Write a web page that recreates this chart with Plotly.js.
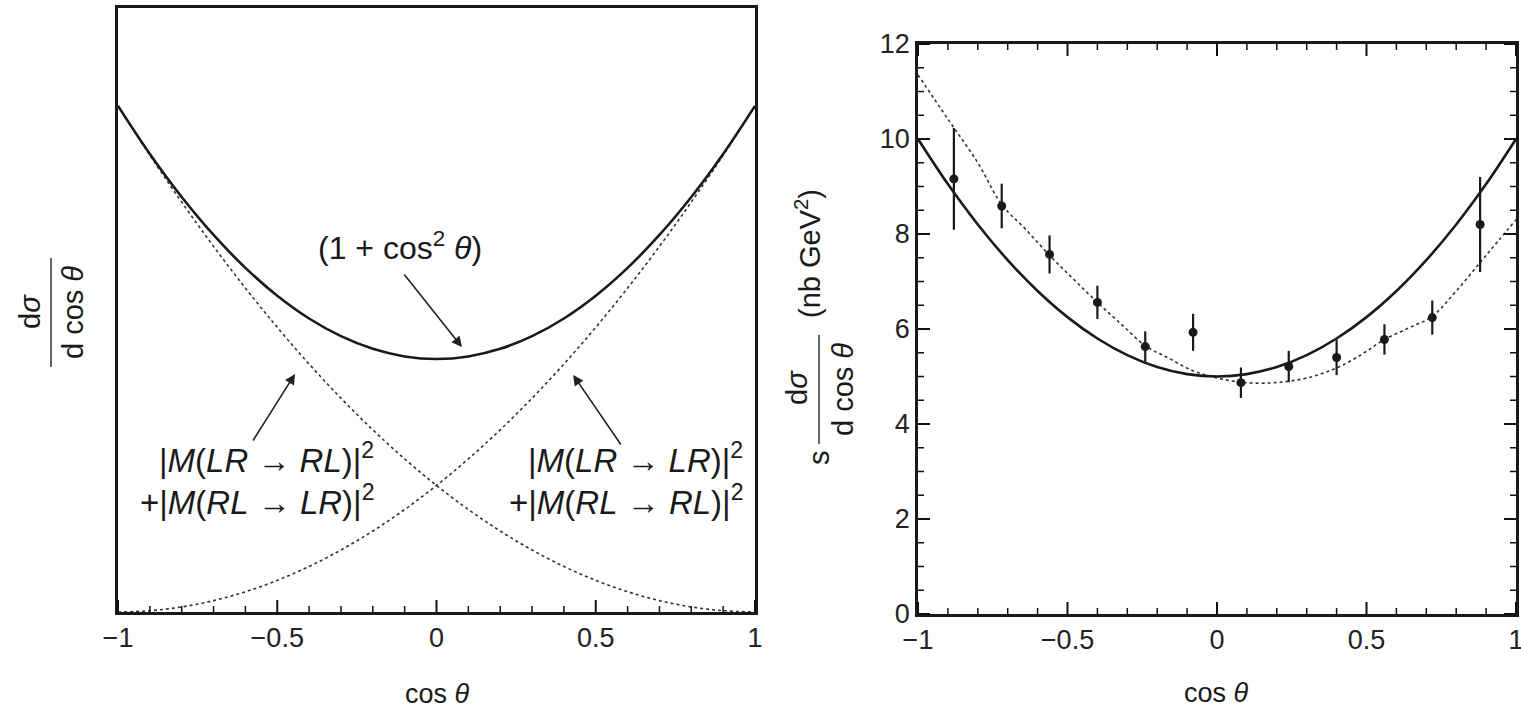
<!DOCTYPE html>
<html>
<head>
<meta charset="utf-8">
<script src="https://cdn.plot.ly/plotly-3.0.1.min.js"></script>
<style>html,body{margin:0;padding:0;background:#fff;}#chart{width:1521px;height:723px;}</style>
</head>
<body>
<div id="chart"></div>
<script>
// ---------- Left panel: shape curves (arbitrary units) ----------
const leftX = [-1,-0.9,-0.8,-0.7,-0.6,-0.5,-0.4,-0.3,-0.2,-0.1,0,0.1,0.2,0.3,0.4,0.5,0.6,0.7,0.8,0.9,1];
const leftTotal = [2.0,1.81,1.64,1.49,1.36,1.25,1.16,1.09,1.04,1.01,1.0,1.01,1.04,1.09,1.16,1.25,1.36,1.49,1.64,1.81,2.0];
const leftLRtoRL = [2.0,1.805,1.62,1.445,1.28,1.125,0.98,0.845,0.72,0.605,0.5,0.405,0.32,0.245,0.18,0.125,0.08,0.045,0.02,0.005,0.0];
const leftLRtoLR = [0.0,0.005,0.02,0.045,0.08,0.125,0.18,0.245,0.32,0.405,0.5,0.605,0.72,0.845,0.98,1.125,1.28,1.445,1.62,1.805,2.0];

// ---------- Right panel: s dσ/dcosθ (nb GeV^2) ----------
const rightX = [-1,-0.9,-0.8,-0.7,-0.6,-0.5,-0.4,-0.3,-0.2,-0.1,0,0.1,0.2,0.3,0.4,0.5,0.6,0.7,0.8,0.9,1];
const rightSolid = [10.0,9.05,8.2,7.45,6.8,6.25,5.8,5.45,5.2,5.05,5.0,5.05,5.2,5.45,5.8,6.25,6.8,7.45,8.2,9.05,10.0];
const dashX = [-1,-0.9,-0.8,-0.72,-0.64,-0.56,-0.48,-0.4,-0.32,-0.24,-0.16,-0.08,0,0.08,0.16,0.24,0.32,0.4,0.48,0.56,0.64,0.72,0.8,0.88,0.94,1];
const dashY = [11.35,10.42,9.5,8.62,8.1,7.55,7.05,6.56,6.1,5.65,5.38,5.12,4.97,4.88,4.86,4.9,5.0,5.18,5.45,5.78,6.02,6.27,6.8,7.4,7.85,8.3];
const dataX = [-0.88,-0.72,-0.56,-0.40,-0.24,-0.08,0.08,0.24,0.40,0.56,0.72,0.88];
const dataY = [9.16,8.59,7.57,6.56,5.63,5.93,4.87,5.21,5.40,5.78,6.24,8.20];
const dataErr = [1.07,0.47,0.40,0.35,0.32,0.39,0.32,0.33,0.37,0.32,0.36,1.0];

// ---------- Ticks ----------
const xTickVals = [-1,-0.5,0,0.5,1];
const xTickText = ['\u22121','\u22120.5','0','0.5','1'];
const xMinorVals = [-0.9,-0.8,-0.7,-0.6,-0.4,-0.3,-0.2,-0.1,0.1,0.2,0.3,0.4,0.6,0.7,0.8,0.9];
const yTickVals = [0,2,4,6,8,10,12];
const yTickText = ['0','2','4','6','8','10','12'];
const yMinorVals = [0.5,1,1.5,2.5,3,3.5,4.5,5,5.5,6.5,7,7.5,8.5,9,9.5,10.5,11,11.5];

const FONT = 'Liberation Sans, Arial, Helvetica, sans-serif';
const INK = '#1a1a1a';

const W = 1521, H = 723;
const px = v => v / W;
const py = v => 1 - v / H;

// panel geometry (pixels) and axis ranges
const L = {x0:118, x1:755, y0:8, y1:612};
const R = {x0:918, x1:1516, y0:44, y1:614};
const LYR = [0, 2.387], XR = [-1, 1], RYR = [0, 12];
const MAJ = 12, MIN = 6;

const traces = [
  {x: leftX, y: leftLRtoRL, xaxis:'x', yaxis:'y', mode:'lines', line:{color:'#333', width:1.6, dash:'dot', shape:'spline'}, hoverinfo:'skip'},
  {x: leftX, y: leftLRtoLR, xaxis:'x', yaxis:'y', mode:'lines', line:{color:'#333', width:1.6, dash:'dot', shape:'spline'}, hoverinfo:'skip'},
  {x: leftX, y: leftTotal, xaxis:'x', yaxis:'y', mode:'lines', line:{color:INK, width:2.6, shape:'spline'}, hoverinfo:'skip'},
  {x: dashX, y: dashY, xaxis:'x2', yaxis:'y2', mode:'lines', line:{color:'#333', width:1.6, dash:'dot', shape:'spline'}, hoverinfo:'skip'},
  {x: rightX, y: rightSolid, xaxis:'x2', yaxis:'y2', mode:'lines', line:{color:INK, width:2.6, shape:'spline'}, hoverinfo:'skip'},
  {x: dataX, y: dataY, xaxis:'x2', yaxis:'y2', mode:'markers', marker:{color:INK, size:9},
   error_y:{type:'data', array:dataErr, visible:true, color:INK, thickness:2.2, width:0}}
];

const tickFont = {family:FONT, size:27, color:'#222'};
const baseAxis = {showline:true, linecolor:INK, linewidth:2.5, showgrid:false, zeroline:false, ticks:''};

const layout = {
  width:W, height:H, margin:{l:0,r:0,t:0,b:0},
  paper_bgcolor:'#fff', plot_bgcolor:'#fff', showlegend:false,
  font:{family:FONT, color:'#222'},
  xaxis: Object.assign({}, baseAxis, {
    domain:[px(L.x0), px(L.x1)], range:XR, anchor:'y', mirror:true,
    tickmode:'array', tickvals:xTickVals, ticktext:xTickText, tickfont:tickFont
  }),
  yaxis: Object.assign({}, baseAxis, {
    domain:[py(L.y1), py(L.y0)], range:LYR, anchor:'x', mirror:true, showticklabels:false
  }),
  xaxis2: Object.assign({}, baseAxis, {
    domain:[px(R.x0), px(R.x1)], range:XR, anchor:'y2', mirror:true,
    tickmode:'array', tickvals:xTickVals, ticktext:xTickText, tickfont:tickFont, ticklabeloverflow:'allow'
  }),
  yaxis2: Object.assign({}, baseAxis, {
    domain:[py(R.y1), py(R.y0)], range:RYR, anchor:'x2', mirror:true,
    tickmode:'array', tickvals:yTickVals, ticktext:yTickText, tickfont:tickFont
  }),
  shapes: [
    {type:'line', xref:'paper', yref:'paper', x0:px(51), x1:px(51), y0:py(258), y1:py(367), line:{color:'#333', width:1.5}},
    {type:'line', xref:'paper', yref:'paper', x0:px(819), x1:px(819), y0:py(335), y1:py(444), line:{color:'#333', width:1.5}}
  ],
  annotations: []
};

// inside tick marks: tick values mapped with each axis' domain and range
const S = layout.shapes;
const xToPix = (P, v) => P.x0 + (v - XR[0]) / (XR[1] - XR[0]) * (P.x1 - P.x0);
const yToPix = (P, r, v) => P.y1 - (v - r[0]) / (r[1] - r[0]) * (P.y1 - P.y0);
function addX(P, vals, len, w, top) {
  vals.forEach(v => {
    const X = px(xToPix(P, v));
    S.push({type:'line', xref:'paper', yref:'paper', x0:X, x1:X, y0:py(P.y1), y1:py(P.y1 - len), line:{color:'#111', width:w}});
    if (top) S.push({type:'line', xref:'paper', yref:'paper', x0:X, x1:X, y0:py(P.y0), y1:py(P.y0 + len), line:{color:'#111', width:w}});
  });
}
function addY(P, r, vals, len, w) {
  vals.forEach(v => {
    const Y = py(yToPix(P, r, v));
    S.push({type:'line', xref:'paper', yref:'paper', x0:px(P.x0), x1:px(P.x0 + len), y0:Y, y1:Y, line:{color:'#111', width:w}});
    S.push({type:'line', xref:'paper', yref:'paper', x0:px(P.x1), x1:px(P.x1 - len), y0:Y, y1:Y, line:{color:'#111', width:w}});
  });
}
addX(L, xTickVals, MAJ, 2, false);
addX(L, xMinorVals, MIN, 1.5, false);
addX(R, xTickVals, MAJ, 2, true);
addX(R, xMinorVals, MIN, 1.5, true);
addY(R, RYR, yTickVals, MAJ, 2);
addY(R, RYR, yMinorVals, MIN, 1.5);

const A = layout.annotations;
const txtFont = s => ({family:FONT, size:s, color:'#1a1a1a'});
A.push({xref:'paper', yref:'paper', x:px(437), y:py(694), text:'cos <i>θ</i>', showarrow:false, font:txtFont(27), xanchor:'center', yanchor:'middle'});
A.push({xref:'paper', yref:'paper', x:px(1216), y:py(693), text:'cos <i>θ</i>', showarrow:false, font:txtFont(27), xanchor:'center', yanchor:'middle'});
A.push({xref:'paper', yref:'paper', x:px(30), y:py(312), text:'d<i>σ</i>', textangle:-90, showarrow:false, font:txtFont(29), xanchor:'center', yanchor:'middle'});
A.push({xref:'paper', yref:'paper', x:px(73), y:py(313), text:'d cos <i>θ</i>', textangle:-90, showarrow:false, font:txtFont(29), xanchor:'center', yanchor:'middle'});
A.push({xref:'paper', yref:'paper', x:px(797), y:py(388), text:'d<i>σ</i>', textangle:-90, showarrow:false, font:txtFont(29), xanchor:'center', yanchor:'middle'});
A.push({xref:'paper', yref:'paper', x:px(843), y:py(390), text:'d cos <i>θ</i>', textangle:-90, showarrow:false, font:txtFont(29), xanchor:'center', yanchor:'middle'});
A.push({xref:'paper', yref:'paper', x:px(819), y:py(458), text:'s', textangle:-90, showarrow:false, font:txtFont(29), xanchor:'center', yanchor:'middle'});
A.push({xref:'paper', yref:'paper', x:px(808), y:py(254), text:'(nb GeV<sup>2</sup>)', textangle:-90, showarrow:false, font:txtFont(29), xanchor:'center', yanchor:'middle'});

A.push({xref:'x', yref:'y', x:-0.114, y:1.447, text:'(1 + cos<sup>2</sup> <i>θ</i>)', showarrow:false, font:txtFont(32), xanchor:'center', yanchor:'middle'});
A.push({xref:'x', yref:'y', axref:'x', ayref:'y', x:0.080, y:1.047, ax:-0.105, ay:1.34, text:'', showarrow:true, arrowhead:2, arrowsize:1.3, arrowwidth:1.6, arrowcolor:'#222'});
A.push({xref:'x', yref:'y', x:-0.19, y:0.609, text:'|<i>M</i>(<i>LR</i> → <i>RL</i>)|<sup>2</sup>', showarrow:false, font:txtFont(33), xanchor:'right', yanchor:'middle'});
A.push({xref:'x', yref:'y', x:-0.19, y:0.443, text:'+|<i>M</i>(<i>RL</i> → <i>LR</i>)|<sup>2</sup>', showarrow:false, font:txtFont(33), xanchor:'right', yanchor:'middle'});
A.push({xref:'x', yref:'y', axref:'x', ayref:'y', x:-0.444, y:0.941, ax:-0.579, ay:0.672, text:'', showarrow:true, arrowhead:2, arrowsize:1.3, arrowwidth:1.6, arrowcolor:'#222'});
A.push({xref:'x', yref:'y', x:0.97, y:0.609, text:'|<i>M</i>(<i>LR</i> → <i>LR</i>)|<sup>2</sup>', showarrow:false, font:txtFont(33), xanchor:'right', yanchor:'middle'});
A.push({xref:'x', yref:'y', x:0.97, y:0.443, text:'+|<i>M</i>(<i>RL</i> → <i>RL</i>)|<sup>2</sup>', showarrow:false, font:txtFont(33), xanchor:'right', yanchor:'middle'});
A.push({xref:'x', yref:'y', axref:'x', ayref:'y', x:0.429, y:0.937, ax:0.582, ay:0.656, text:'', showarrow:true, arrowhead:2, arrowsize:1.3, arrowwidth:1.6, arrowcolor:'#222'});

Plotly.newPlot('chart', traces, layout, {displayModeBar:false});
</script>
</body>
</html>
